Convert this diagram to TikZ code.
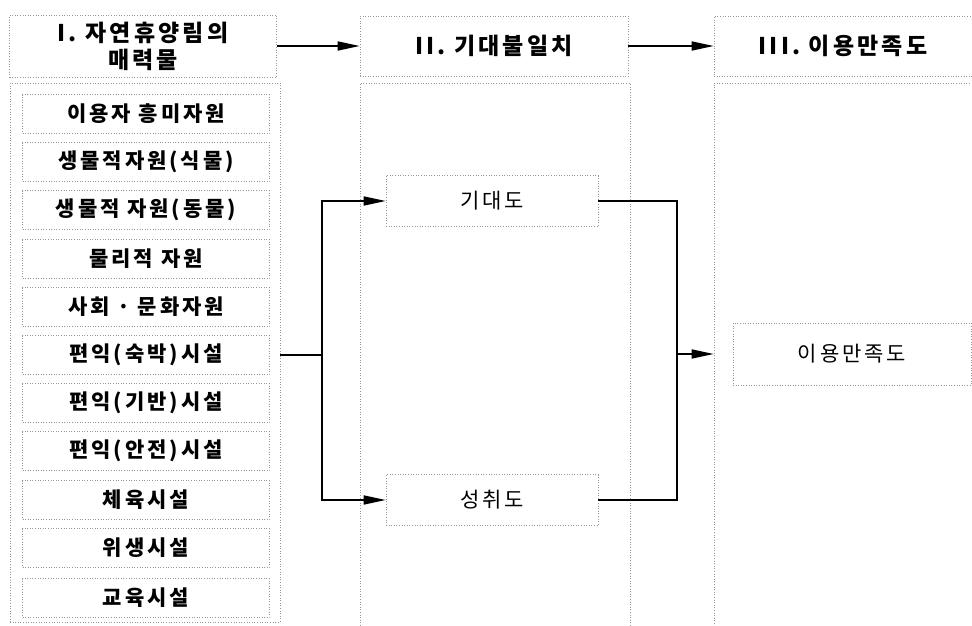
\documentclass[tikz,border=0pt]{standalone}
\usepackage{fontspec}
\newfontfamily\krfont[LetterSpace=14]{Noto Sans CJK KR}
\usetikzlibrary{arrows.meta}

\begin{document}
\begin{tikzpicture}[x=1pt, y=-1pt, line width=1.6pt, >={Triangle[length=22pt,width=9pt]},
    grid/.style={
            draw=gridgray,
            dotted,
            line width=0.6pt,
            inner sep=0pt,
            align=center
          },
    head/.style={grid, minimum height=60, font=\krfont\bfseries\fontsize{23}{27}\selectfont},
    item/.style={grid, minimum width=247, minimum height=39, font=\krfont\bfseries\fontsize{21}{22}\selectfont},
    stage/.style={grid, minimum height=51, font=\krfont\fontsize{21}{22}\selectfont},
    column/.style={grid, minimum height=543}]
        % Define colors
        \definecolor{gridgray}{RGB}{150, 150, 150}

    \useasboundingbox (0,0) rectangle (972,626);

    % headers
    \node[head, minimum width=267, minimum height=62] (hdr1) at (143,46) {I. 자연휴양림의\\매력물};
    \node[head, minimum width=268] (hdr2) at (494,46) {II. 기대불일치};
    \node[head, minimum width=258] (hdr3) at (843,46) {III. 이용만족도};
    \draw[->] (hdr1.east) -- (hdr2.west);
    \draw[->] (hdr2.east) -- (hdr3.west);

    % columns
    \node[column, minimum width=270, minimum height=539] (attr) at (145,352.5) {};
    \node[column, minimum width=270] (gapcol) at (495,354.5) {};
    \node[column, minimum width=258] (satcol) at (843,354.5) {};

    % attractions
    \node[item] (i1) at (146,114) {이용자 흥미자원};
    \node[item] (i2) at (146,162) {생물적자원(식물)};
    \node[item] (i3) at (146,210) {생물적 자원(동물)};
    \node[item] (i4) at (146,259) {물리적 자원};
    \node[item] (i5) at (146,307) {사회 · 문화자원};
    \node[item] (i6) at (146,355) {편익(숙박)시설};
    \node[item] (i7) at (146,403) {편익(기반)시설};
    \node[item] (i8) at (146,451) {편익(안전)시설};
    \node[item] (i9) at (146,500) {체육시설};
    \node[item] (i10) at (146,548) {위생시설};
    \node[item] (i11) at (146,598) {교육시설};

    % disconfirmation
    \node[stage, minimum width=212] (exp) at (492,201) {기대도};
    \node[stage, minimum width=212] (ach) at (492,500) {성취도};
    \node[stage, minimum width=238, minimum height=62] (sat) at (852,354) {이용만족도};

    \coordinate (split) at (322,355);
    \coordinate (merge) at (677,354);
    \draw (attr.east |- i6) -- (split);
    \draw[->] (split) |- (exp.west);
    \draw[->] (split) |- (ach.west);
    \draw (exp.east) -| (merge);
    \draw (ach.east) -| (merge);
    \draw[->] (merge) -- (satcol.west |- merge);

\end{tikzpicture}
\end{document}
